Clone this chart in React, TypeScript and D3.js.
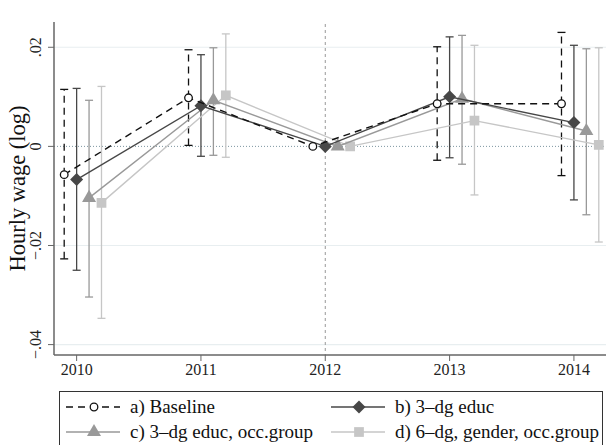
import React from 'react';
import * as d3 from 'd3';

const years = [2010, 2011, 2012, 2013, 2014];

// point estimates (2012 is the reference year)
const baseline = [-0.0057, 0.0098, 0, 0.0086, 0.0086];
const educ3 = [-0.0067, 0.0082, 0, 0.0100, 0.0048];
const educOcc = [-0.0104, 0.0093, 0, 0.0096, 0.0031];
const genderOcc = [-0.0114, 0.0103, 0, 0.0052, 0.0003];

// confidence intervals, none for 2012
const baselineLo = [-0.0227, 0.0002, null, -0.0028, -0.0059];
const baselineHi = [0.0115, 0.0195, null, 0.0201, 0.0230];
const educ3Lo = [-0.0250, -0.0020, null, -0.0023, -0.0108];
const educ3Hi = [0.0117, 0.0185, null, 0.0221, 0.0204];
const educOccLo = [-0.0304, -0.0018, null, -0.0036, -0.0138];
const educOccHi = [0.0093, 0.0199, null, 0.0224, 0.0197];
const genderOccLo = [-0.0347, -0.0022, null, -0.0098, -0.0193];
const genderOccHi = [0.0121, 0.0227, null, 0.0204, 0.0199];

const yTicks = [0.02, 0, -0.02, -0.04];
const yTickLabels = ['.02', '0', '\u2212.02', '\u2212.04'];

const series = [
  { label: 'a) Baseline', values: baseline, lo: baselineLo, hi: baselineHi, offset: -0.1, color: '#111', dash: '7,5', marker: 'circle' },
  { label: 'b) 3\u2013dg educ', values: educ3, lo: educ3Lo, hi: educ3Hi, offset: 0, color: '#474747', dash: null, marker: 'diamond' },
  { label: 'c) 3\u2013dg educ, occ.group', values: educOcc, lo: educOccLo, hi: educOccHi, offset: 0.1, color: '#999', dash: null, marker: 'triangle' },
  { label: 'd) 6\u2013dg, gender, occ.group', values: genderOcc, lo: genderOccLo, hi: genderOccHi, offset: 0.2, color: '#c6c6c6', dash: null, marker: 'square' },
];

const W = 607;
const H = 445;
const left = 54;
const top = 22;
const bottom = 355;
const right = 606;

const x = d3.scaleLinear().domain([2009.818, 2014.258]).range([left, right]);
const y = d3.scaleLinear().domain([-0.0421, 0.0251]).range([bottom, top]);

const font = "'Liberation Serif', 'Times New Roman', serif";

function Marker({ type, cx, cy, color }) {
  if (type === 'circle') {
    return <circle cx={cx} cy={cy} r={3.8} fill="#fff" stroke={color} strokeWidth={1.3} />;
  }
  if (type === 'diamond') {
    const r = 6.5;
    return <path d={`M${cx},${cy - r}L${cx + r},${cy}L${cx},${cy + r}L${cx - r},${cy}Z`} fill={color} />;
  }
  const sym = type === 'triangle' ? d3.symbolTriangle : d3.symbolSquare;
  const size = type === 'triangle' ? 85 : 95;
  const path = d3.symbol().type(sym).size(size)();
  return <path d={path} transform={`translate(${cx},${cy})`} fill={color} />;
}

export default function App() {
  const lineGen = d3.line();
  return (
    <svg width={W} height={H} style={{ position: 'absolute', left: 0, top: 0, background: '#fff', fontFamily: font }}>
      <rect width={W} height={H} fill="#fff" />
      {/* grid */}
      {yTicks.filter((t) => t !== 0).map((t) => (
        <line key={t} x1={left} x2={right} y1={y(t)} y2={y(t)} stroke="#e8eef0" strokeWidth={1.2} />
      ))}
      <line x1={left} x2={right} y1={y(0)} y2={y(0)} stroke="#7d96a0" strokeWidth={1} strokeDasharray="1,2" />
      <line x1={x(2012)} x2={x(2012)} y1={top + 2} y2={bottom} stroke="#999" strokeWidth={1} strokeDasharray="3,3" />

      {/* error bars */}
      {series.map((s) => (
        <g key={s.label + 'ci'}>
          {years.map((yr, i) => {
            if (s.lo[i] === null) return null;
            const cx = x(yr + s.offset);
            return (
              <g key={yr}>
                <line x1={cx} x2={cx} y1={y(s.lo[i])} y2={y(s.hi[i])} stroke={s.color} strokeWidth={1.3} strokeDasharray={s.dash || undefined} />
                <line x1={cx - 4} x2={cx + 4} y1={y(s.lo[i])} y2={y(s.lo[i])} stroke={s.color} strokeWidth={1.3} />
                <line x1={cx - 4} x2={cx + 4} y1={y(s.hi[i])} y2={y(s.hi[i])} stroke={s.color} strokeWidth={1.3} />
              </g>
            );
          })}
        </g>
      ))}

      {/* lines and markers, drawn back to front */}
      {series.slice().reverse().map((s) => (
        <g key={s.label}>
          <path
            d={lineGen(years.map((yr, i) => [x(yr + s.offset), y(s.values[i])]))}
            fill="none"
            stroke={s.color}
            strokeWidth={1.4}
            strokeDasharray={s.dash || undefined}
          />
          {years.map((yr, i) => (
            <Marker key={yr} type={s.marker} cx={x(yr + s.offset)} cy={y(s.values[i])} color={s.color} />
          ))}
        </g>
      ))}

      {/* axes */}
      <line x1={left} x2={left} y1={top} y2={bottom} stroke="#666" strokeWidth={1.5} />
      <line x1={left} x2={right} y1={bottom} y2={bottom} stroke="#666" strokeWidth={1.5} />
      {yTicks.map((t, i) => (
        <g key={t}>
          <line x1={left - 6} x2={left} y1={y(t)} y2={y(t)} stroke="#666" strokeWidth={1} />
          <text
            transform={`translate(${left - 13},${y(t)}) rotate(-90)`}
            textAnchor="middle"
            fontSize={16}
            fill="#222"
          >
            {yTickLabels[i]}
          </text>
        </g>
      ))}
      {years.map((yr) => (
        <g key={yr}>
          <line x1={x(yr)} x2={x(yr)} y1={bottom} y2={bottom + 6} stroke="#666" strokeWidth={1} />
          <text x={x(yr)} y={bottom + 20} textAnchor="middle" fontSize={16} fill="#222">
            {yr}
          </text>
        </g>
      ))}
      <text transform={`translate(25,${(top + bottom) / 2}) rotate(-90)`} textAnchor="middle" fontSize={22.5} fill="#111">
        Hourly wage (log)
      </text>

      {/* legend */}
      <rect x={59.5} y={391.5} width={543} height={60} fill="#fff" stroke="#333" strokeWidth={1} />
      {series.map((s, i) => {
        const col = i % 2;
        const row = Math.floor(i / 2);
        const kx = col === 0 ? 66 : 331;
        const ky = 407 + row * 25;
        return (
          <g key={s.label + 'leg'}>
            <line x1={kx} x2={kx + 54} y1={ky} y2={ky} stroke={s.color} strokeWidth={1.4} strokeDasharray={s.dash || undefined} />
            <Marker type={s.marker} cx={kx + 28} cy={ky} color={s.color} />
            <text x={kx + 64} y={ky + 6} fontSize={19} fill="#111">
              {s.label}
            </text>
          </g>
        );
      })}
    </svg>
  );
}
